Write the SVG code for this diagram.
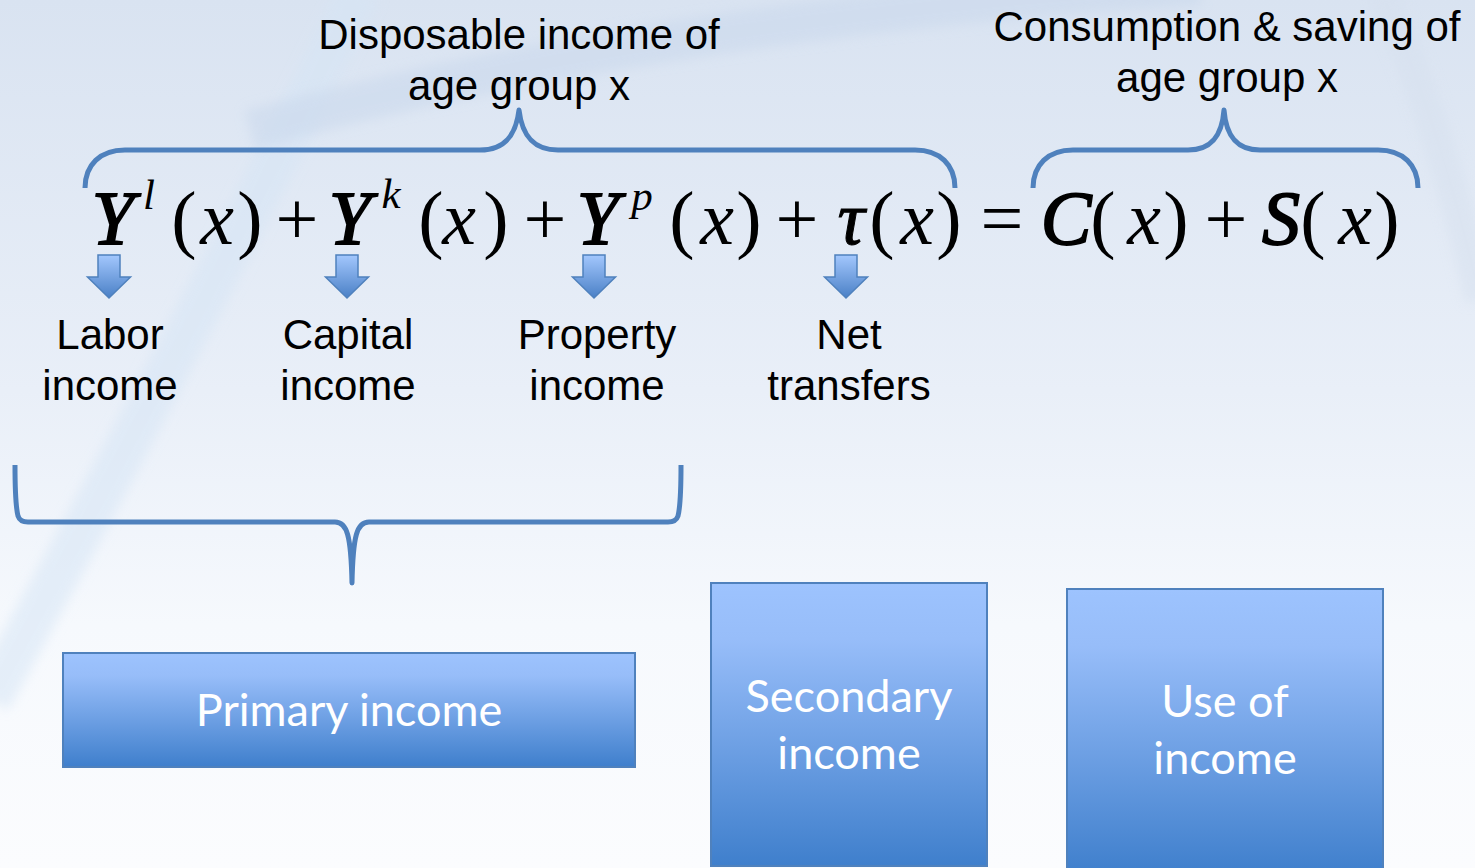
<svg xmlns="http://www.w3.org/2000/svg" width="1475" height="868" viewBox="0 0 1475 868">
  <style>
    .lbl { font-family: "Liberation Sans", Arial, sans-serif; font-size: 42px; fill: #000; text-anchor: middle; }
    .eq { font-family: "Liberation Serif", "Times New Roman", serif; font-size: 76px; fill: #000; text-anchor: middle; }
    .it { font-style: italic; }
    .bi { font-style: italic; stroke: #000; stroke-width: 1.8; }
    .sup { font-family: "Liberation Serif", "Times New Roman", serif; font-size: 43px; font-style: italic; fill: #000; text-anchor: middle; }
    .box { stroke: #4f81bd; stroke-width: 2; fill: url(#boxGrad); }
    .boxtxt { font-family: Lato, "Open Sans", sans-serif; font-size: 45px; fill: #fff; text-anchor: middle; }
    .brace { fill: none; stroke: #4f81bd; stroke-width: 5; stroke-linejoin: round; stroke-linecap: butt; }
    .arrow { fill: url(#arrGrad); stroke: #4f81bd; stroke-width: 1.5; }
  </style>
  <defs>
    <linearGradient id="bgGrad" x1="0" y1="0" x2="0" y2="1">
      <stop offset="0" stop-color="#d9e3f1"/>
      <stop offset="0.45" stop-color="#e9eff8"/>
      <stop offset="0.72" stop-color="#f6f9fd"/>
      <stop offset="1" stop-color="#fbfcfe"/>
    </linearGradient>
    <linearGradient id="boxGrad" x1="0" y1="0" x2="0" y2="1">
      <stop offset="0" stop-color="#9dc3fe"/>
      <stop offset="0.2" stop-color="#97bdf9"/>
      <stop offset="1" stop-color="#3f7fcc"/>
    </linearGradient>
    <linearGradient id="arrGrad" x1="0" y1="0" x2="0" y2="1">
      <stop offset="0" stop-color="#a3c7fd"/>
      <stop offset="1" stop-color="#4a80c6"/>
    </linearGradient>
    <filter id="soft" x="-20%" y="-20%" width="140%" height="140%">
      <feGaussianBlur stdDeviation="6"/>
    </filter>
    <path id="downArrow" d="M -11,0 H 11 V 22 H 21.5 L 0,43 L -21.5,22 H -11 Z"/>
  </defs>

  <g id="background">
    <rect x="0" y="0" width="1475" height="868" fill="url(#bgGrad)"/>
    <path d="M 360,-10 Q 230,260 -10,700" fill="none" stroke="#d6e5f5" stroke-width="42" opacity="0.55" filter="url(#soft)"/>
    <path d="M 250,130 Q 650,20 1200,-15" fill="none" stroke="#c9d8ec" stroke-width="40" opacity="0.55" filter="url(#soft)"/>
    <path d="M 1380,-10 Q 1440,120 1480,300" fill="none" stroke="#d6e0ee" stroke-width="30" opacity="0.5" filter="url(#soft)"/>
  </g>

  <g id="title-disposable">
    <text class="lbl" x="519" y="49">Disposable income of</text>
    <text class="lbl" x="519" y="100">age group x</text>
  </g>
  <g id="title-consumption">
    <text class="lbl" x="1227" y="41">Consumption &amp; saving of</text>
    <text class="lbl" x="1227" y="92">age group x</text>
  </g>

  <g id="equation">
    <text class="eq bi" x="113" y="244">Y</text>
    <text class="sup" x="149" y="209">l</text>
    <text class="eq" x="184" y="244">(</text>
    <text class="eq it" x="217" y="244">x</text>
    <text class="eq" x="250" y="244">)</text>
    <text class="eq" x="297" y="244">+</text>
    <text class="eq bi" x="350" y="244">Y</text>
    <text class="sup" x="391" y="208">k</text>
    <text class="eq" x="431" y="244">(</text>
    <text class="eq it" x="459" y="244">x</text>
    <text class="eq" x="496" y="244">)</text>
    <text class="eq" x="545" y="244">+</text>
    <text class="eq bi" x="598" y="244">Y</text>
    <text class="sup" x="642" y="210">p</text>
    <text class="eq" x="682" y="244">(</text>
    <text class="eq it" x="717" y="244">x</text>
    <text class="eq" x="749" y="244">)</text>
    <text class="eq" x="797" y="244">+</text>
    <text class="eq it" x="851" y="244" style="stroke:#000;stroke-width:1">τ</text>
    <text class="eq" x="882" y="244">(</text>
    <text class="eq it" x="917" y="244">x</text>
    <text class="eq" x="949" y="244">)</text>
    <text class="eq" x="1002" y="244">=</text>
    <text class="eq bi" x="1066" y="244">C</text>
    <text class="eq" x="1103" y="244">(</text>
    <text class="eq it" x="1144" y="244">x</text>
    <text class="eq" x="1176" y="244">)</text>
    <text class="eq" x="1226" y="244">+</text>
    <text class="eq bi" x="1281" y="244">S</text>
    <text class="eq" x="1313" y="244">(</text>
    <text class="eq it" x="1355" y="244">x</text>
    <text class="eq" x="1387" y="244">)</text>
  </g>

  <g id="connectors">
    <path class="brace" d="M 85,188 C 85,165 100,150 125,150 L 480,150 C 505,150 516,135 519,110 C 522,135 533,150 558,150 L 915,150 C 940,150 955,165 955,188"/>
    <path class="brace" d="M 1033,188 C 1033,165 1048,150 1073,150 L 1188,150 C 1212,150 1222,135 1224,110 C 1226,135 1236,150 1260,150 L 1378,150 C 1403,150 1418,165 1418,188"/>
    <path class="brace" d="M 15,465 C 15,490 16,508 18,516 Q 20,522 28,522 L 335,522 C 347,522 351,535 352,583 C 353,535 357,522 369,522 L 668,522 Q 676,522 678,516 C 680,508 681,490 681,465"/>
    <use href="#downArrow" class="arrow" x="109" y="255"/>
    <use href="#downArrow" class="arrow" x="347" y="255"/>
    <use href="#downArrow" class="arrow" x="594" y="255"/>
    <use href="#downArrow" class="arrow" x="846" y="255"/>
  </g>

  <g id="label-labor">
    <text class="lbl" x="110" y="349">Labor</text>
    <text class="lbl" x="110" y="400">income</text>
  </g>
  <g id="label-capital">
    <text class="lbl" x="348" y="349">Capital</text>
    <text class="lbl" x="348" y="400">income</text>
  </g>
  <g id="label-property">
    <text class="lbl" x="597" y="349">Property</text>
    <text class="lbl" x="597" y="400">income</text>
  </g>
  <g id="label-net">
    <text class="lbl" x="849" y="349">Net</text>
    <text class="lbl" x="849" y="400">transfers</text>
  </g>

  <g id="node-primary">
    <rect class="box" x="63" y="653" width="572" height="114"/>
    <text class="boxtxt" x="349" y="726">Primary income</text>
  </g>
  <g id="node-secondary">
    <rect class="box" x="711" y="583" width="276" height="283"/>
    <text class="boxtxt" x="849" y="712">Secondary</text>
    <text class="boxtxt" x="849" y="769">income</text>
  </g>
  <g id="node-use">
    <rect class="box" x="1067" y="589" width="316" height="285"/>
    <text class="boxtxt" x="1225" y="717">Use of</text>
    <text class="boxtxt" x="1225" y="774">income</text>
  </g>
</svg>
